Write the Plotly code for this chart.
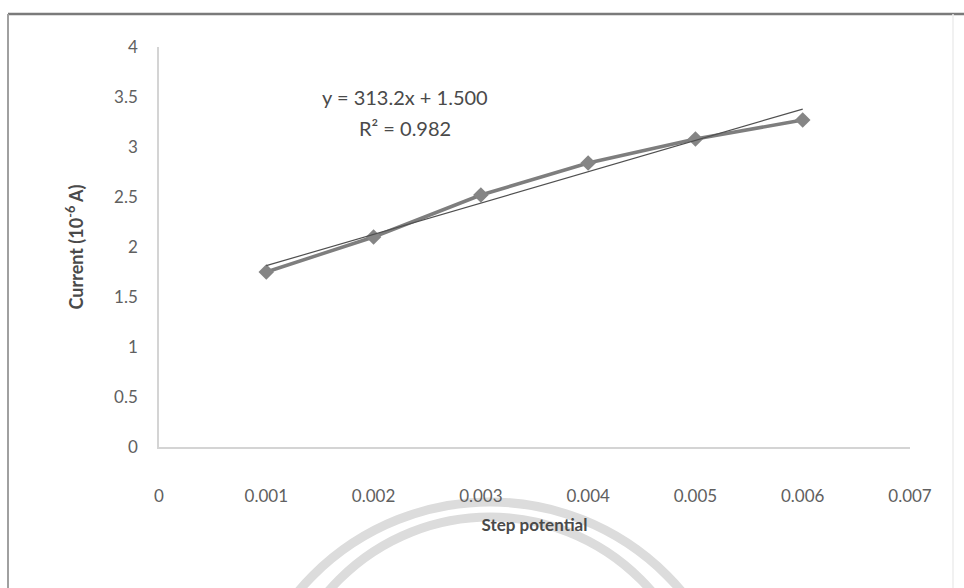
import plotly.graph_objects as go

# ---- data ----
step_potential = [0.001, 0.002, 0.003, 0.004, 0.005, 0.006]
current = [1.75, 2.10, 2.52, 2.84, 3.08, 3.27]
slope = 313.2
intercept = 1.500
r_squared = 0.982
x_ticks = [0, 0.001, 0.002, 0.003, 0.004, 0.005, 0.006, 0.007]
x_tick_labels = ["0", "0.001", "0.002", "0.003", "0.004", "0.005", "0.006", "0.007"]
y_ticks = [0, 0.5, 1, 1.5, 2, 2.5, 3, 3.5, 4]
y_tick_labels = ["0", "0.5", "1", "1.5", "2", "2.5", "3", "3.5", "4"]

W, H = 964, 588
L, R, T, B = 159, 54, 47, 141
pw, ph = W - L - R, H - T - B

def px(x):
    return (x - L) / pw

def py(y):
    return (H - B - y) / ph

trend_x = [step_potential[0], step_potential[-1]]
trend_y = [slope * v + intercept for v in trend_x]

fig = go.Figure()
fig.add_trace(go.Scatter(
    x=step_potential, y=current, mode="lines+markers",
    line=dict(color="#7e7e7e", width=3.5),
    marker=dict(symbol="diamond", size=12, color="#858585"),
    showlegend=False,
))
fig.add_trace(go.Scatter(
    x=trend_x, y=trend_y, mode="lines",
    line=dict(color="#505050", width=1.2),
    showlegend=False,
))

font_family = "Lato, 'Open Sans', sans-serif"

fig.add_annotation(
    x=px(405), y=py(97), xref="paper", yref="paper",
    xanchor="center", yanchor="middle",
    text=f"y = {slope}x + {intercept:.3f}",
    showarrow=False, align="center",
    font=dict(family=font_family, size=20, color="#4a4a4a"),
)
fig.add_annotation(
    x=px(405), y=py(128), xref="paper", yref="paper",
    xanchor="center", yanchor="middle",
    text=f"R² = {r_squared}",
    showarrow=False, align="center",
    font=dict(family=font_family, size=20, color="#4a4a4a"),
)

shapes = []
# watermark rings (faint)
for (cx, cy, r) in [(490, 752, 250), (490, 730, 213)]:
    shapes.append(dict(type="circle", xref="paper", yref="paper",
                       x0=px(cx - r), x1=px(cx + r), y0=py(cy + r), y1=py(cy - r),
                       line=dict(color="#dcdcdc", width=9), layer="below"))
# outer frame lines
shapes.append(dict(type="line", xref="paper", yref="paper",
                   x0=px(8), x1=px(964), y0=py(14), y1=py(14),
                   line=dict(color="#7a7a7a", width=2.5)))
shapes.append(dict(type="line", xref="paper", yref="paper",
                   x0=px(8), x1=px(8), y0=py(14), y1=py(588),
                   line=dict(color="#a0a0a0", width=2)))
shapes.append(dict(type="line", xref="paper", yref="paper",
                   x0=px(953), x1=px(953), y0=py(14), y1=py(588),
                   line=dict(color="#ececec", width=1.5)))

fig.update_layout(
    width=W, height=H,
    margin=dict(l=L, r=R, t=T, b=B),
    paper_bgcolor="white", plot_bgcolor="white",
    font=dict(family=font_family, color="#5a5a5a"),
    shapes=shapes,
    xaxis=dict(
        range=[0, 0.007], tickvals=x_ticks, ticktext=x_tick_labels,
        showgrid=False, zeroline=False, showline=True, linecolor="#d4d4d4", linewidth=1.5,
        ticks="", ticklabelstandoff=33, tickfont=dict(size=17, color="#606060"),
        title=dict(text="<b>Step potential</b>", standoff=14,
                   font=dict(size=17, color="#4a4a4a")),
    ),
    yaxis=dict(
        range=[0, 4], tickvals=y_ticks, ticktext=y_tick_labels,
        showgrid=False, zeroline=False, showline=True, linecolor="#d4d4d4", linewidth=1.5,
        ticks="", ticklabelstandoff=16, tickfont=dict(size=17, color="#606060"),
        title=dict(text="<b>Current (10<sup>-6</sup> A)</b>", standoff=26,
                   font=dict(size=18, color="#4a4a4a")),
    ),
)

fig.write_html("out.html")
